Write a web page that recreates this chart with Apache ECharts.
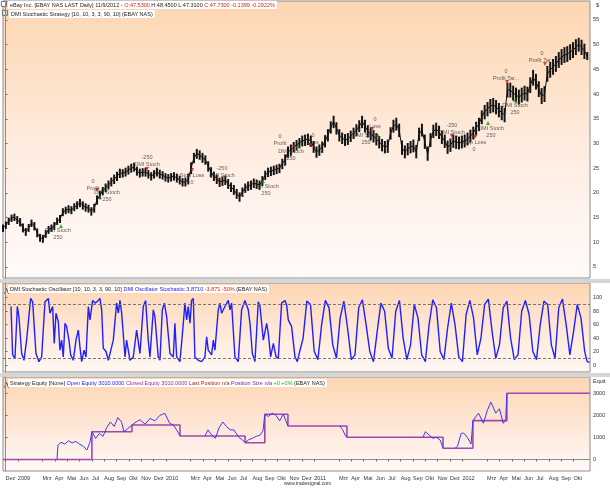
<!DOCTYPE html>
<html><head><meta charset="utf-8">
<script src="https://cdn.jsdelivr.net/npm/echarts@6/dist/echarts.min.js"></script>
<style>html,body{margin:0;padding:0;background:#fff}#c{width:610px;height:488px}</style>
</head><body><div id="c"></div>
<script>
// ---------- DATA (x positions are months since 1 Dec 2008) ----------
const priceStartMonth = -0.2;      // first weekly bar
const monthsPerWeek = 12 / 52;
const priceClose = [12.9,13.5,14.3,14.9,15.1,14.5,14.1,12.9,12.1,12.9,
13.9,13.3,11.9,10.9,10.7,11.7,12.5,12.9,13.3,14.3,
14.7,16.1,16.5,16.7,16.5,17.1,17.5,18.0,17.5,17.1,
16.9,16.3,16.9,18.6,19.6,20.4,21.0,21.6,22.2,22.8,
23.4,24.0,24.0,24.2,24.6,25.0,25.2,24.4,24.0,24.2,
24.2,23.8,23.4,23.8,24.2,23.8,23.6,23.2,23.0,23.2,
23.4,23.0,22.6,22.2,22.2,22.8,25.0,27.1,27.9,27.7,
27.1,26.7,25.4,24.2,23.4,22.8,22.2,22.4,22.6,21.8,
21.2,20.6,19.8,19.2,20.2,21.0,21.4,21.6,22.0,21.8,
21.6,22.4,23.6,24.2,24.4,24.6,24.8,25.0,25.9,26.7,
28.3,28.7,29.3,29.7,30.1,30.5,30.7,30.9,30.5,29.3,
28.3,28.7,29.3,30.5,31.7,33.3,34.4,33.1,31.7,31.1,
30.7,30.9,31.5,32.1,32.7,33.5,34.4,33.5,32.5,31.9,
31.5,30.9,30.3,29.7,29.3,29.5,32.1,33.5,33.9,32.7,
29.1,28.3,28.9,29.3,29.5,28.3,31.9,32.7,30.3,27.9,
30.7,32.5,32.9,32.3,31.3,30.5,29.3,29.7,30.5,30.3,
30.1,30.3,30.5,30.9,31.5,32.1,33.1,33.9,35.4,36.4,
37.0,37.6,37.8,37.4,36.8,36.2,35.8,40.8,40.8,40.2,
39.8,39.4,39.8,40.2,40.0,41.8,43.3,42.5,41.0,39.6,
40.0,44.1,44.9,45.5,46.1,46.9,47.5,47.9,48.1,48.5,
48.9,49.5,50.1,49.5,48.7,47.7];
const priceHigh = [13.6,14.2,15.0,15.6,15.8,15.3,14.9,13.8,12.9,13.7,
14.6,14.1,12.8,11.7,11.5,12.5,13.3,13.6,14.1,15.0,
15.5,16.9,17.2,17.5,17.3,17.9,18.3,18.8,18.3,17.9,
17.6,17.1,17.8,19.5,20.4,21.2,21.9,22.5,23.1,23.7,
24.3,24.9,24.8,25.1,25.5,25.9,26.1,25.3,24.9,25.0,
25.1,24.6,24.2,24.6,25.1,24.7,24.4,24.0,23.8,24.0,
24.2,23.9,23.5,23.0,23.1,23.9,26.2,28.1,28.9,28.6,
28.1,27.6,26.4,25.2,24.3,23.7,23.1,23.3,23.5,22.8,
22.1,21.6,20.8,20.1,21.1,21.9,22.3,22.5,22.9,22.7,
22.5,23.4,24.5,25.1,25.3,25.5,25.7,25.9,26.9,27.8,
29.4,29.8,30.3,30.7,31.1,31.6,31.8,32.0,31.6,30.5,
29.4,29.8,30.4,31.7,32.9,34.5,35.6,34.3,32.9,32.2,
31.9,32.1,32.6,33.2,33.9,34.7,35.6,34.8,33.7,33.1,
32.7,32.1,31.5,30.9,30.5,30.8,33.3,34.8,35.2,34.0,
30.6,29.6,30.1,30.5,30.8,29.7,33.2,34.0,31.8,29.4,
32.1,33.8,34.2,33.6,32.6,31.8,30.6,31.0,31.8,31.6,
31.4,31.6,31.8,32.2,32.8,33.4,34.4,35.2,36.7,37.8,
38.4,39.0,39.2,38.8,38.2,37.6,37.2,42.3,42.3,41.7,
41.3,40.9,41.3,41.7,41.5,43.4,44.9,44.1,42.6,41.2,
41.6,45.7,46.5,47.1,47.7,48.5,49.1,49.5,49.7,50.1,
50.5,51.1,51.4,51.0,50.2,48.5];
const priceLow = [12.1,12.7,13.5,14.1,14.3,13.7,13.2,12.0,11.3,12.1,
13.1,12.4,11.0,10.1,9.9,10.9,11.7,12.1,12.5,13.5,
13.9,15.3,15.7,15.9,15.7,16.3,16.7,17.1,16.6,16.2,
16.0,15.4,16.0,17.6,18.7,19.5,20.1,20.7,21.3,21.8,
22.4,23.0,23.1,23.3,23.7,24.1,24.3,23.5,23.1,23.3,
23.3,22.9,22.5,22.9,23.3,22.9,22.7,22.3,22.1,22.3,
22.5,22.1,21.7,21.3,21.3,21.7,23.8,26.0,26.9,26.7,
26.1,25.7,24.3,23.1,22.4,21.8,21.2,21.4,21.6,20.8,
20.2,19.6,18.8,18.2,19.2,20.0,20.4,20.6,21.0,20.8,
20.6,21.4,22.6,23.2,23.4,23.6,23.8,24.0,24.8,25.5,
27.1,27.5,28.2,28.6,29.0,29.4,29.5,29.7,29.3,28.1,
27.1,27.5,28.1,29.2,30.4,32.0,33.1,31.8,30.4,29.9,
29.5,29.7,30.3,30.9,31.5,32.3,33.1,32.2,31.2,30.6,
30.2,29.6,29.0,28.4,28.0,28.1,30.8,32.2,32.6,31.3,
27.7,27.0,27.6,28.0,28.2,27.0,30.5,31.4,28.9,26.5,
29.3,31.1,31.5,30.9,29.9,29.1,27.9,28.3,29.1,28.9,
28.8,29.0,29.2,29.6,30.2,30.8,31.7,32.5,33.9,34.9,
35.5,36.1,36.3,35.9,35.3,34.7,34.3,39.3,39.3,38.7,
38.3,37.9,38.3,38.7,38.5,40.2,41.7,40.9,39.4,38.0,
38.4,42.5,43.3,43.9,44.5,45.3,45.9,46.3,46.5,46.9,
47.3,47.9,48.6,47.9,47.1,46.9];

// strategy signal texts (month, price anchor, text)
const signalMonth = [4.25,7.09,8.22,11.46,15.1,17.53,21.09,22.23,23.12,24.9,29.92,29.19,36.15,37.93,39.31,40.53,41.26,43.44];
const signalPrice = [11.68,21.6,19.37,26.36,22.81,24.23,20.59,30.71,27.57,31.01,34.05,31.01,32.94,29.49,32.33,43.87,36.98,47.51];
const signalText = ['DMI Stoch\n250','0\nProfit','DMI Stoch\n250','-250\nDMI Stoch','Stop Loss\n0','-250\nDMI Stoch',
 'DMI Stoch\n250','0\nProfit','DMI Stoch\n250','0\nLoss','0\nLoss','DMI Stoch\n250','-250\nDMI Stoch','Stop Loss\n0',
 'DMI Stoch\n250','0\nProfit Tar...','DMI Stoch\n250','0\nProfit Tar...'];
const exitMonth = [7.41,11.46,15.1,17.21,23.36,24.66,29.68,36.15,38.02,40.61,43.68];
const exitPrice = [20.59,24.84,24.64,22.61,29.29,29.7,32.94,31.52,31.32,42.45,46.09];
const entryMonth = [4.49,7.65,20.85,23.68,30.16,39.07,41.26];
const entryPrice = [13.3,19.17,22.41,29.49,31.52,34.15,38.81];

// DMI stochastic oscillator
const oscMonth = [0.45,0.58,0.77,0.96,1.09,1.31,1.50,1.71,2.04,2.20,2.47,2.71,2.93,3.20,3.47,3.60,3.82,3.95,4.09,4.28,
4.41,4.55,4.68,4.82,4.95,5.14,5.28,5.49,5.71,5.90,6.03,6.17,6.36,6.52,6.71,6.84,7.06,7.25,7.52,7.65,
7.79,7.92,8.14,8.33,8.46,8.73,9.00,9.14,9.27,9.41,9.68,9.81,10.08,10.35,10.62,10.89,11.16,11.35,11.56,11.70,
11.97,12.10,12.37,12.51,12.70,12.86,13.05,13.32,13.59,13.72,13.86,14.13,14.40,14.53,14.67,14.80,14.94,15.07,15.21,15.34,
15.61,15.88,16.15,16.29,16.42,16.69,16.83,16.96,17.23,17.37,17.50,17.77,18.04,18.18,18.31,18.58,18.85,19.12,19.39,19.66,
19.80,19.99,20.20,20.47,20.61,20.88,21.15,21.28,21.47,21.69,21.91,22.09,22.36,22.63,22.77,22.90,23.17,23.44,23.63,23.85,
24.1,24.4,24.7,25.0,25.3,25.6,25.9,26.2,26.5,26.8,27.1,27.4,27.7,28.0,28.3,28.6,28.9,29.2,29.5,29.8,
30.1,30.4,30.7,31.0,31.3,31.6,31.9,32.2,32.5,32.8,33.1,33.4,33.7,34.0,34.3,34.6,34.9,35.2,35.5,35.8,
36.1,36.4,36.7,37.0,37.3,37.6,37.9,38.2,38.5,38.8,39.1,39.4,39.7,40.0,40.3,40.6,40.9,41.2,41.5,41.8,
42.1,42.4,42.7,43.0,43.3,43.6,43.9,44.2,44.5,44.8,45.1,45.4,45.7,46.0,46.3,46.6,46.9,47.1,47.3];
const oscValue = [87,15,10,87,72,17,7,37,99,94,17,5,12,94,99,77,87,32,77,64,
22,37,12,62,57,37,15,7,37,52,27,5,22,12,87,67,96,92,96,99,
82,25,20,7,5,37,92,77,96,77,12,37,7,12,52,17,87,96,37,12,
82,72,12,7,82,92,72,17,12,62,12,5,62,92,67,87,62,96,99,12,
7,5,12,42,22,15,37,22,82,92,77,87,96,82,92,12,5,82,96,82,
62,17,5,94,87,37,62,47,12,32,12,10,92,96,89,67,57,12,5,22,
40,95,90,20,8,60,96,85,30,10,70,95,55,8,15,85,97,60,20,5,
50,92,80,25,10,80,96,40,8,30,90,70,15,5,60,97,85,20,8,55,
92,60,12,5,75,96,70,15,40,90,98,50,10,30,85,95,40,8,15,80,
96,75,20,8,60,95,90,30,10,85,98,60,15,50,90,70,20,5,4];
const oscLevels = [10, 90];

// strategy equity
const closedEqMonth = [-0.2,7.0,10.24,14.13,19.4,21.0,22.87,27.65,35.43,37.85,40.6,47.33];
const closedEqValue = [0,1260,1560,1065,760,2050,1520,1005,507,1760,3000,3010];
const openEqMonth = [4.17,4.25,4.5,4.8,5.1,5.4,5.7,6.0,6.3,6.6,6.85,7.0,7.3,7.6,7.9,8.2,8.5,8.8,9.1,9.4,9.6,9.9,10.24,
10.6,10.9,11.3,11.7,12.1,12.5,12.9,13.3,13.6,13.9,14.13,14.2,
16.15,16.4,16.7,17.0,17.3,17.6,17.9,18.2,18.5,18.9,19.2,19.4,19.7,20.0,20.3,20.6,20.85,21.0,21.3,21.6,21.9,22.2,22.5,22.87,22.9,
27.08,27.3,27.5,27.65,27.7,
33.8,34.0,34.3,34.6,34.9,35.2,35.43,35.5,
36.4,36.6,36.9,37.1,37.4,37.7,37.85,38.3,38.7,39.0,39.3,39.7,40.0,40.3,40.5,40.6];
const openEqValue = [0,650,780,700,850,750,820,700,600,430,800,1260,950,1180,1050,1450,1700,1500,1900,1700,1260,1400,1560,
1714,1800,1600,1860,1750,2000,2090,1640,1560,1300,1065,null,
1065,1340,1110,960,1450,1700,1488,1350,1337,1000,884,760,900,960,1050,1100,1300,2050,1950,2100,2000,1750,2050,1520,null,
1520,1350,1110,1005,null,
1005,1260,1110,960,1000,880,507,null,
507,600,1180,1200,1000,700,1760,2100,1640,2200,2600,2100,2300,1640,1800,3000];

// axis tick labels
const priceTicks = [5,10,15,20,25,30,35,40,45,50,55];
const oscTicks = [0,20,40,60,80,100];
const equityTicks = [0,1000,2000,3000];
const monthTicks = [0,1,3,4,5,6,7,8,9,10,11,12,13,15,16,17,18,19,20,21,22,23,24,25,27,28,29,30,31,32,33,34,35,36,37,39,40,41,42,43,44,45,46];
const monthLabels = ['Dez','2009','Mrz','Apr','Mai','Jun','Jul','Aug','Sep','Okt','Nov','Dez','2010','Mrz','Apr','Mai','Jun','Jul','Aug','Sep','Okt','Nov','Dez','2011','Mrz','Apr','Mai','Jun','Jul','Aug','Sep','Okt','Nov','Dez','2012','Mrz','Apr','Mai','Jun','Jul','Aug','Sep','Okt'];

// ---------- CHART ----------
const FONT = 'Liberation Sans';
const FS = 5.5;
const X_MIN = -0.2, X_MAX = 47.33;
const monthLabelMap = {};
monthTicks.forEach((m, i) => monthLabelMap[m] = monthLabels[i]);

function grad(stops) {
  return new echarts.graphic.LinearGradient(0, 0, 0, 1, stops.map(c => ({offset: c[0], color: c[1]})));
}
const mainBg = grad([[0,'#fdd6b2'],[0.25,'#fde0c6'],[0.5,'#feebdd'],[0.75,'#fff3ed'],[1,'#fffaf9']]);
const oscBg = grad([[0,'#fdd5b1'],[0.5,'#fee7d6'],[1,'#fff8f5']]);
const eqBg = grad([[0,'#fdd6b2'],[0.5,'#fee6d6'],[1,'#fffaf8']]);

function hiddenX(gi) {
  return {gridIndex: gi, type: 'value', min: X_MIN, max: X_MAX,
    axisLine: {show: false}, axisTick: {show: false}, axisLabel: {show: false}, splitLine: {show: false}};
}
function rightY(gi, min, max, ticks) {
  return {gridIndex: gi, type: 'value', position: 'right', min: min, max: max,
    axisLine: {show: true, lineStyle: {color: '#8c8c8c'}},
    axisTick: {show: true, customValues: ticks, length: 2, lineStyle: {color: '#666'}},
    axisLabel: {customValues: ticks, formatter: v => String(v), fontSize: FS, fontFamily: FONT, color: '#333', margin: 3},
    splitLine: {show: false}};
}

const chart = echarts.init(document.getElementById('c'));
const option = {
  animation: false,
  backgroundColor: '#fff',
  grid: [
    {left: 3, top: 1, width: 587, height: 277, show: true, backgroundColor: mainBg, borderColor: '#8c8c8c', borderWidth: 1},
    {left: 3, top: 283, width: 587, height: 89, show: true, backgroundColor: oscBg, borderColor: '#8c8c8c', borderWidth: 1},
    {left: 3, top: 377, width: 587, height: 94, show: true, backgroundColor: eqBg, borderColor: '#8c8c8c', borderWidth: 1}
  ],
  xAxis: [hiddenX(0), hiddenX(1), {
    gridIndex: 2, type: 'value', min: X_MIN, max: X_MAX,
    axisLine: {show: true, lineStyle: {color: '#8c8c8c'}},
    axisTick: {show: true, customValues: monthTicks, length: 2, lineStyle: {color: '#666'}},
    axisLabel: {customValues: monthTicks, formatter: v => monthLabelMap[v] || '', fontSize: FS, fontFamily: FONT,
      color: '#333', align: 'left', margin: 4},
    splitLine: {show: false}
  }],
  yAxis: [rightY(0, 2.77, 58.84, priceTicks), rightY(1, -10.4, 121.9, oscTicks), rightY(2, -521, 3738, equityTicks)],
  series: [
    {
      type: 'line', xAxisIndex: 0, yAxisIndex: 0, symbol: 'none',
      data: priceClose.map((c, i) => [priceStartMonth + i * monthsPerWeek, c]),
      lineStyle: {color: '#111', width: 1}
    },
    {
      type: 'custom', xAxisIndex: 0, yAxisIndex: 0,
      data: priceClose.map((c, i) => [priceStartMonth + i * monthsPerWeek, priceHigh[i], priceLow[i], c]),
      encode: {x: 0, y: [1, 2]},
      renderItem: (params, api) => {
        const m = api.value(0);
        const top = api.coord([m, api.value(1)]);
        const bot = api.coord([m, api.value(2)]);
        const w = api.size([monthsPerWeek, 0])[0];
        return {type: 'rect', shape: {x: top[0] - w * 0.35, y: top[1], width: w * 0.7, height: bot[1] - top[1]},
          style: {fill: '#141414'}};
      }
    },
    {
      type: 'scatter', xAxisIndex: 0, yAxisIndex: 0, symbol: 'triangle', symbolSize: [4, 4], symbolRotate: 180,
      itemStyle: {color: '#e01010'}, data: exitMonth.map((m, i) => [m, exitPrice[i]])
    },
    {
      type: 'scatter', xAxisIndex: 0, yAxisIndex: 0, symbol: 'triangle', symbolSize: [4, 4],
      itemStyle: {color: '#10a010'}, data: entryMonth.map((m, i) => [m, entryPrice[i]])
    },
    {
      type: 'scatter', xAxisIndex: 0, yAxisIndex: 0, symbolSize: 0,
      data: signalMonth.map((m, i) => [m, signalPrice[i], signalText[i]]),
      label: {show: true, position: 'inside', formatter: p => p.data[2], fontSize: FS, lineHeight: 7,
        fontFamily: FONT, color: '#3a3a3a', align: 'center'}
    },
    {
      type: 'line', xAxisIndex: 1, yAxisIndex: 1, symbol: 'none',
      data: oscMonth.map((m, i) => [m, oscValue[i]]),
      lineStyle: {color: '#2020ff', width: 1.4},
      markLine: {silent: true, symbol: 'none', label: {show: false},
        lineStyle: {color: '#777', type: [3, 2], width: 1},
        data: oscLevels.map(v => ({yAxis: v}))}
    },
    {
      type: 'line', xAxisIndex: 2, yAxisIndex: 2, symbol: 'none', step: 'end',
      data: closedEqMonth.map((m, i) => [m, closedEqValue[i]]),
      lineStyle: {color: '#a545b0', width: 1.6}
    },
    {
      type: 'line', xAxisIndex: 2, yAxisIndex: 2, symbol: 'none', connectNulls: false,
      data: openEqMonth.map((m, i) => [m, openEqValue[i] === null ? '-' : openEqValue[i]]),
      lineStyle: {color: '#3a3aff', width: 1}
    }
  ],
  graphic: [
    {type: 'rect', left: 0, top: 279, shape: {width: 610, height: 4}, style: {fill: '#d6d6d6'}},
    {type: 'rect', left: 0, top: 373, shape: {width: 610, height: 4}, style: {fill: '#d6d6d6'}},
    {type: 'text', left: 596, top: 2, style: {text: '$', fontSize: FS, fontFamily: FONT, fill: '#333'}},
    {type: 'text', left: 593, top: 378, style: {text: 'Equit', fontSize: FS, fontFamily: FONT, fill: '#333'}},
    {type: 'rect', left: 1, top: 1, shape: {width: 5, height: 5}, style: {fill: '#fff', stroke: '#555', lineWidth: 0.8}},
    {type: 'rect', left: 2, top: 10, shape: {width: 5, height: 5}, style: {fill: '#ddd', stroke: '#555', lineWidth: 0.8}},
    {type: 'text', left: 8, top: 1, style: {
      text: '{k|eBay Inc. [EBAY NAS LAST Daily] 11/9/2012 - }{r|O:47.5300 }{k|H:48.4500 L:47.3100 }{r|C:47.7300 -0.1399 -0.2922%}',
      fontSize: FS, fontFamily: FONT, backgroundColor: '#fff', padding: [1, 2],
      rich: {k: {fill: '#222', fontSize: FS, fontFamily: FONT}, r: {fill: '#e02020', fontSize: FS, fontFamily: FONT}}}},
    {type: 'text', left: 9, top: 10, style: {
      text: 'DMI Stochastic Strategy [10, 10, 3, 3, 90, 10] (EBAY NAS)',
      fontSize: FS, fontFamily: FONT, fill: '#222', backgroundColor: '#fff', padding: [1, 2]}},
    {type: 'polyline', left: 2, top: 286, shape: {points: [[0, 5], [2, 0], [4, 5], [6, 1]]}, style: {stroke: '#333', fill: null, lineWidth: 0.8}},
    {type: 'text', left: 8, top: 285, style: {
      text: '{k|DMI Stochastic Oscillator [10, 10, 3, 3, 90, 10] }{b|DMI Oscillator Stochastic 3.8710 }{r|-3.871 -50% }{k|(EBAY NAS)}',
      fontSize: FS, fontFamily: FONT, backgroundColor: '#fff', padding: [1, 2],
      rich: {k: {fill: '#222', fontSize: FS, fontFamily: FONT}, b: {fill: '#2020ff', fontSize: FS, fontFamily: FONT},
             r: {fill: '#e02020', fontSize: FS, fontFamily: FONT}}}},
    {type: 'polyline', left: 2, top: 380, shape: {points: [[0, 5], [2, 0], [4, 5], [6, 1]]}, style: {stroke: '#333', fill: null, lineWidth: 0.8}},
    {type: 'text', left: 8, top: 379, style: {
      text: '{k|Strategy Equity [None] }{b|Open Equity 3010.0000 }{p|Closed Equity 3010.0000 }{m|Last Position n/a }{v|Position Size n/a }{g|+0 +0% }{k|(EBAY NAS)}',
      fontSize: FS, fontFamily: FONT, backgroundColor: '#fff', padding: [1, 2],
      rich: {k: {fill: '#222', fontSize: FS, fontFamily: FONT}, b: {fill: '#2020ff', fontSize: FS, fontFamily: FONT},
             p: {fill: '#a02a90', fontSize: FS, fontFamily: FONT}, m: {fill: '#a02a2a', fontSize: FS, fontFamily: FONT},
             v: {fill: '#6a2a9a', fontSize: FS, fontFamily: FONT}, g: {fill: '#20b020', fontSize: FS, fontFamily: FONT}}}},
    {type: 'text', left: 284, top: 481, style: {text: 'www.tradesignal.com', fontSize: 5, fontFamily: FONT, fill: '#333'}}
  ]
};
chart.setOption(option);
</script>
</body></html>
